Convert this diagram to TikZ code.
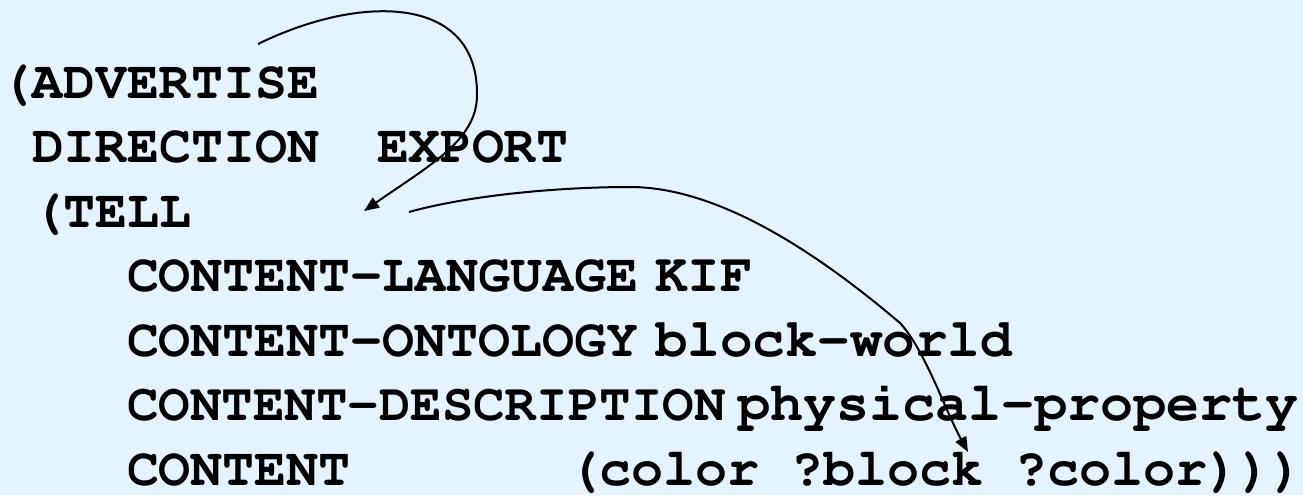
\documentclass[tikz,border=0pt]{standalone}
\usepackage{fontspec}
% slab-serif typewriter face where one is installed, metric twin otherwise
\IfFontExistsTF{Nimbus Mono PS}{\setmonofont{Nimbus Mono PS}}{%
  \IfFontExistsTF{FreeMono}{\setmonofont{FreeMono}}{%
    \setmonofont{Liberation Mono}}}
\usetikzlibrary{arrows.meta}
\definecolor{bgblue}{HTML}{E3F3FF}
\newcommand{\codesize}[1]{\fontsize{#1}{60}\selectfont}
\tikzset{
  code/.style={anchor=base west, inner sep=0pt, outer sep=0pt,
    font=\codesize{53.3}\ttfamily\bfseries, text=black},
  codeat/.style={code, font=\codesize{#1}\ttfamily\bfseries},
  link/.style={line width=2pt, -{Triangle[length=15pt,width=12pt]}}
}
\begin{document}
\begin{tikzpicture}[x=1pt,y=-1pt]
  \fill[bgblue] (0,0) rectangle (1303,495);
  \useasboundingbox (0,0) rectangle (1303,495);

  % message lines
  \node[code] (adv)   at (0,98)    {(ADVERTISE};
  \node[code] (dir)   at (32,162.5)  {DIRECTION};
  \node[code] (exp)   at (377,162.5) {EXPORT};
  \node[code] (tell)  at (32,227)   {(TELL};
  \node[code] (lang)  at (127,291.5) {CONTENT-LANGUAGE};
  \node[codeat=54.2] (kif)   at (655,291.5) {KIF};
  \node[code] (ont)   at (127,356)  {CONTENT-ONTOLOGY};
  \node[codeat=54.2] (bw)    at (655,356)  {block-world};
  \node[codeat=52.5] (desc)  at (127,420.5) {CONTENT-DESCRIPTION};
  \node[codeat=55] (phys)  at (737,420.5) {physical-property};
  \node[code] (cont)  at (127,485)  {CONTENT};
  \node[code] (expr)  at (568,485)  {(color ?block ?color)))};

  % connector end points
  \coordinate (a1s) at (258,44);
  \coordinate (a1m) at (477,95);
  \coordinate (a1e) at (364,211);
  \coordinate (a2s) at (409,212);
  \coordinate (a2p) at (630,187);
  \coordinate (a2q) at (900,323);
  \coordinate (a2e) at (968,452);

  % the outer message wraps the inner one
  \draw[link] (a1s) .. controls (360,-6) and (478,-6) .. (a1m)
                    .. controls (477,140) and (430,165) .. (a1e);
  % the inner message carries the content expression
  \draw[link] (a2s) .. controls (470,195) and (560,187) .. (a2p)
                    .. controls (720,187) and (820,255) .. (a2q)
                    .. controls (925,350) and (945,410) .. (a2e);
\end{tikzpicture}
\end{document}
